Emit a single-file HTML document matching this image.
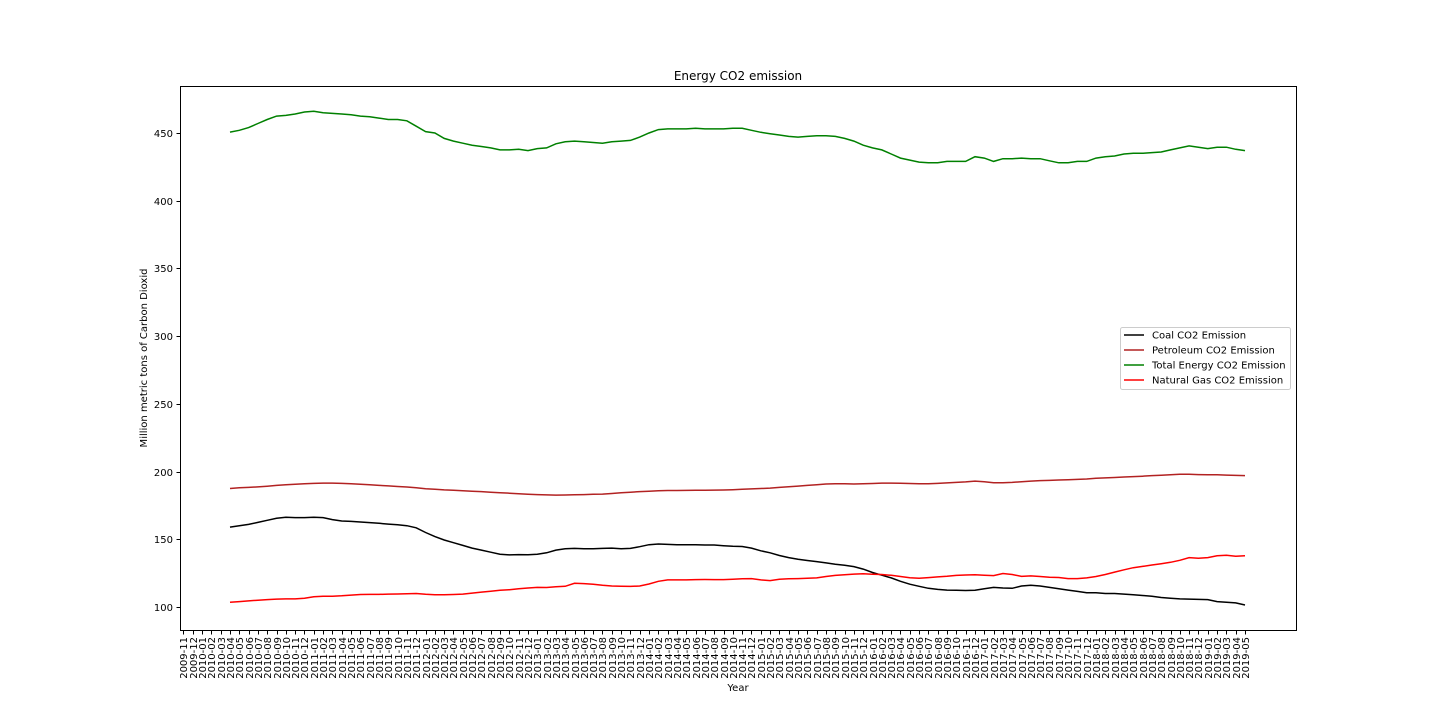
<!DOCTYPE html>
<html><head><meta charset="utf-8"><style>
html,body{margin:0;padding:0;background:#fff;}
svg text{font-family:"DejaVu Sans","Liberation Sans",sans-serif;fill:#000;}
</style></head><body>
<svg id="chart" width="1440" height="720" xmlns="http://www.w3.org/2000/svg">
<text x="738" y="80" font-size="12" text-anchor="middle">Energy CO2 emission</text>
<text x="738" y="691" font-size="10" text-anchor="middle">Year</text>
<text transform="translate(147,358) rotate(-90)" font-size="10" text-anchor="middle">Million metric tons of Carbon Dioxid</text>
<g id="grid"></g>
<g id="series"></g>
<rect x="180.5" y="86.5" width="1116" height="544" fill="none" stroke="#000" stroke-width="1"/>
<g id="legend"></g>
</svg>
<script>
const startYear = 2010, startMonth = 4;
const tickStartYear = 2009, tickStartMonth = 11, tickCount = 115;
const yTicks = [100,150,200,250,300,350,400,450];
const totalEnergy = [450.7,452,454,457,460,462.5,463,464,465.5,466,465,464.5,464,463.5,462.5,462,461,460,460,459,455,451,450,446,444,442.5,441,440,439,437.5,437.5,438,437,438.5,439,442,443.5,444,443.5,443,442.5,443.5,444,444.5,447,450,452.5,453,453,453,453.5,453,453,453,453.5,453.5,452,450.5,449.5,448.5,447.5,447,447.5,448,448,447.5,446,444,441,439,437.5,434.5,431.5,430,428.5,428,428,429,429,429,432.5,431.5,429,431,431,431.5,431,431,429.5,428,428,429,429,431.5,432.5,433,434.5,435,435,435.5,436,437.5,439,440.5,439.5,438.5,439.5,439.5,438,437];
const petroleum = [187.5,188,188.3,188.7,189.2,189.8,190.2,190.6,191,191.3,191.5,191.5,191.3,191,190.6,190.2,189.8,189.4,189,188.6,188,187.3,187,186.5,186.2,185.8,185.5,185.2,184.8,184.3,184,183.6,183.3,183,182.8,182.6,182.7,182.9,183,183.2,183.4,183.8,184.3,184.8,185.2,185.5,185.8,186,186,186.1,186.2,186.2,186.3,186.4,186.6,187,187.2,187.5,187.8,188.3,188.8,189.3,189.8,190.3,190.8,191,191,190.8,191,191.2,191.5,191.5,191.4,191.2,191,191,191.3,191.6,192,192.4,193,192.5,191.8,191.8,192,192.5,193,193.3,193.5,193.8,194,194.2,194.5,195,195.3,195.6,196,196.3,196.6,197,197.3,197.6,198,198,197.8,197.7,197.6,197.4,197.2,197];
const coal = [159,160,161,162.5,164,165.5,166.2,166,166,166.2,166,164.5,163.5,163.2,162.8,162.3,161.8,161.2,160.7,160,158.5,155,152,149.5,147.5,145.5,143.5,142,140.5,139,138.5,138.7,138.6,139,140,142,143,143.3,143,143,143.3,143.5,143,143.3,144.5,146,146.5,146.2,146,146,146,145.8,145.8,145.3,144.8,144.7,143.5,141.5,140,138,136.5,135.2,134.3,133.5,132.6,131.5,130.8,129.8,128,125.5,123.5,121.5,119,116.8,115.3,113.8,113,112.5,112.3,112.2,112.3,113.5,114.5,114,113.8,115.5,116,115.5,114.5,113.5,112.5,111.5,110.5,110.5,110,110,109.5,109,108.5,108,107,106.5,106,105.8,105.6,105.5,104,103.5,103,101.5];
const naturalGas = [103.5,104,104.5,105,105.5,105.8,106,106,106.5,107.5,108,108,108.3,108.8,109.2,109.3,109.3,109.5,109.6,109.8,110,109.4,109,109,109.2,109.5,110.3,111,111.7,112.3,112.8,113.5,114,114.5,114.4,115,115.3,117.5,117.3,116.8,116,115.5,115.3,115.2,115.5,117,119,120,120,120,120.2,120.3,120.2,120.2,120.5,120.8,121,120,119.5,120.5,120.8,121,121.2,121.5,122.5,123.3,123.8,124.3,124.5,124.2,124,123.4,122.5,121.6,121.3,121.7,122.2,122.7,123.3,123.6,123.8,123.5,123.2,124.7,124,122.6,123,122.5,122,121.8,121,121,121.5,122.5,124,125.8,127.5,129,130,131,132,133,134.5,136.5,136,136.5,137.8,138.2,137.5,137.8];
const seriesNames = ["Coal CO2 Emission","Petroleum CO2 Emission","Total Energy CO2 Emission","Natural Gas CO2 Emission"];
const seriesColors = ["#000000","#b22222","#008000","#ff0000"];
const seriesData = [coal, petroleum, totalEnergy, naturalGas];

const NS="http://www.w3.org/2000/svg";
const svg=document.getElementById('chart');
const firstTickMonthIdx = tickStartYear*12+tickStartMonth-1;
const dataMonthIdx = startYear*12+startMonth-1;
const pxPerMonth = 9.312, x0 = 230 - (dataMonthIdx-firstTickMonthIdx)*pxPerMonth;
function xScale(monthOffsetFromTickStart){return x0 + monthOffsetFromTickStart*pxPerMonth;}
function yScale(v){return 607 - (v-100)*(474/350);}
function mk(tag,attrs,parent){const e=document.createElementNS(NS,tag);for(const k in attrs)e.setAttribute(k,attrs[k]);parent.appendChild(e);return e;}
const grid=document.getElementById('grid');
yTicks.forEach(t=>{
  const y=Math.round(yScale(t))+0.5;
  const tk=mk('line',{x1:176.5,x2:180.5,y1:y,y2:y,stroke:'#000'},grid);
  
  
  const lb=mk('text',{x:173,y:y+3.5,'font-size':10,'text-anchor':'end'},grid);
  
  
  lb.textContent=t;
});
for(let i=0;i<tickCount;i++){
  const m=firstTickMonthIdx+i; const yr=Math.floor(m/12), mo=m%12+1;
  const x=Math.round(xScale(i))+0.5;
  const tk=mk('line',{x1:x,x2:x,y1:630.5,y2:634.5,stroke:'#000'},grid);
  
  
  const lb=mk('text',{transform:`translate(${x+3.5},637) rotate(-90)`,'font-size':10,'text-anchor':'end'},grid);
  
  
  lb.textContent=yr+'-'+String(mo).padStart(2,'0');
}
const sg=document.getElementById('series');
const off=dataMonthIdx-firstTickMonthIdx;
seriesData.forEach((arr,si)=>{
  const pts=arr.map((v,i)=>xScale(off+i).toFixed(1)+','+yScale(v).toFixed(1)).join(' ');
  const pl=mk('polyline',{points:pts,fill:'none',stroke:seriesColors[si],'stroke-width':1.5},sg);
  
  
});
const lg=document.getElementById('legend');
mk('rect',{x:1120.5,y:327.5,width:170,height:62,rx:2,fill:'#fff',stroke:'#ccc'},lg);
seriesNames.forEach((n,i)=>{
  const y=335+i*15;
  const g=mk('g',{},lg);
  
  
  mk('line',{x1:1124,x2:1144,y1:y,y2:y,stroke:seriesColors[i],'stroke-width':1.5},g);
  const t=mk('text',{x:1152,y:y+3.5,'font-size':10},g);
  t.textContent=n;
});
</script>
</body></html>
